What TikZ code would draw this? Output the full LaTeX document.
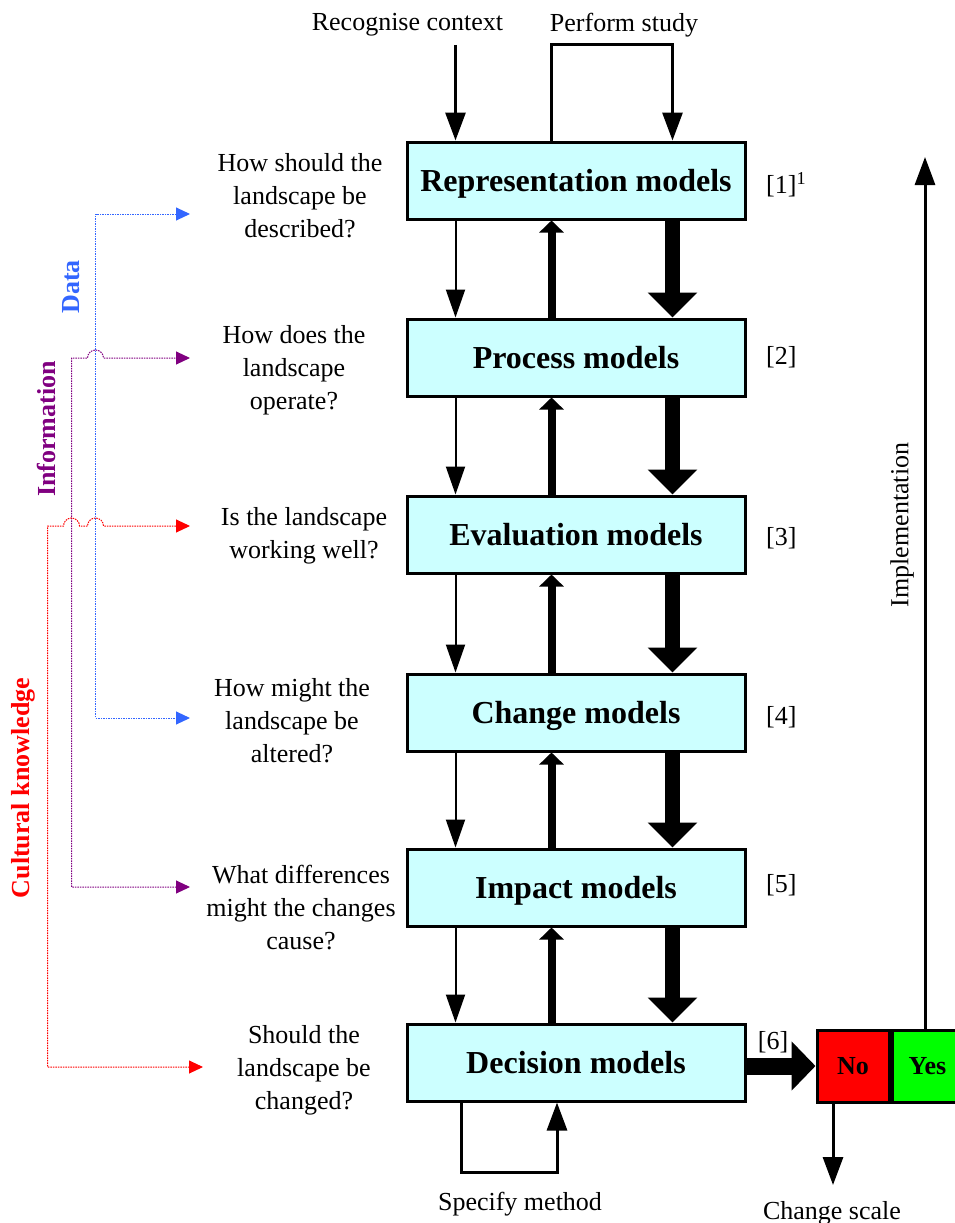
\documentclass[tikz,border=0pt]{standalone}
\usepackage{fontspec}
\setmainfont{Liberation Serif}
\usetikzlibrary{arrows.meta,calc}
\definecolor{boxcyan}{RGB}{204,255,255}
\definecolor{datablue}{RGB}{51,102,255}
\definecolor{infopurple}{RGB}{128,0,128}
\definecolor{cultred}{RGB}{255,0,0}
\definecolor{nored}{RGB}{255,0,0}
\definecolor{yesgreen}{RGB}{0,255,0}
\begin{document}
\begin{tikzpicture}[x=1pt,y=-1pt,
  box/.style={draw, line width=3pt, fill=boxcyan, minimum width=338pt, minimum height=77pt, inner sep=0pt, text height=21pt, text depth=0pt, font=\fontsize{32}{36}\selectfont\bfseries},
  q/.style={align=center, font=\fontsize{26}{33}\selectfont, inner sep=0pt},
  lab/.style={font=\fontsize{26}{30}\selectfont, inner sep=0pt},
  side/.style={font=\fontsize{26}{30}\selectfont\bfseries, inner sep=0pt, rotate=90},
  thinarr/.style={line width=2pt, -{Triangle[length=28pt,width=19pt]}},
  uparr/.style={line width=8pt, -{Triangle[length=12pt,width=24pt]}},
  downarr/.style={line width=15pt, -{Triangle[length=25pt,width=48pt]}},
  flowarr/.style={line width=3pt, -{Triangle[length=28pt,width=20pt]}},
  dotline/.style={line width=1pt, dash pattern=on 1.5pt off 1pt, {Triangle[length=14pt,width=13pt]}-{Triangle[length=14pt,width=13pt]}},
  choice/.style={draw, line width=3pt, minimum height=72pt, inner sep=0pt, font=\fontsize{26}{30}\selectfont\bfseries}
]
\useasboundingbox (0,0) rectangle (954,1223);

% main boxes
\node[box] (b1) at (576,180.5) {Representation models};
\node[box] (b2) at (576,357.5) {Process models};
\node[box] (b3) at (576,534.5) {Evaluation models};
\node[box] (b4) at (576,712.5) {Change models};
\node[box] (b5) at (576,887.5) {Impact models};
\node[box] (b6) at (576,1062.5) {Decision models};

% column coordinates
\coordinate (xa) at (455.5,0);
\coordinate (xb) at (551.5,0);
\coordinate (xc) at (672.5,0);

% arrows between boxes
\foreach \u/\l in {b1/b2,b2/b3,b3/b4,b4/b5,b5/b6}{
  \draw[thinarr] (\u.south -| xa) -- (\l.north -| xa);
  \draw[uparr] (\l.north -| xb) -- (\u.south -| xb);
  \draw[downarr] (\u.south -| xc) -- (\l.north -| xc);
}

% top
\node[lab] (rc) at (407.5,25) {Recognise context};
\node[lab] (ps) at (624,25) {Perform study};
\coordinate (ptop) at (0,45);
\draw[flowarr] (xa |- ptop) -- (b1.north -| xa);
\draw[flowarr] (b1.north -| xb) -- (xb |- ptop) -| (b1.north -| xc);

% bottom loop
\coordinate (xd) at (461,0);
\coordinate (xe) at (557,0);
\coordinate (pbot) at (0,1172);
\draw[flowarr] (b6.south -| xd) -- (xd |- pbot) -| (b6.south -| xe);
\node[lab] (sm) at (520,1204) {Specify method};

% index labels
\node[lab, anchor=west] (l1) at (766,185) {[1]\textsuperscript{1}};
\node[lab, anchor=west] (l2) at (766,357) {[2]};
\node[lab, anchor=west] (l3) at (766,538) {[3]};
\node[lab, anchor=west] (l4) at (766,717) {[4]};
\node[lab, anchor=west] (l5) at (766,885) {[5]};
\node[lab] (l6) at (773,1042) {[6]};

% decision
\node[choice, fill=nored, minimum width=72pt] (no) at (853,1066) {No};
\node[choice, fill=yesgreen, minimum width=71pt, anchor=west] (yes) at (no.east) {Yes};
\draw[line width=17pt, -{Triangle[length=24pt,width=48pt]}] (b6.east |- no.west) -- (no.west);
\coordinate (xn) at (833,0);
\coordinate (cs) at (833,1185);
\draw[flowarr] (no.south -| xn) -- (cs);
\node[lab] (csl) at (832,1213) {Change scale};
\coordinate (xi) at (925,0);
\coordinate (itop) at (925,157);
\draw[flowarr] (yes.north -| xi) -- (itop);
\node[lab, rotate=90] (impl) at (902,525) {Implementation};

% questions
\node[q] (q1) at (300,196) {How should the\\landscape be\\described?};
\node[q] (q2) at (294,370) {How does the\\landscape\\operate?};
\node[q] (q3) at (304,536) {Is the landscape\\working well?};
\node[q] (q4) at (292,721) {How might the\\landscape be\\altered?};
\node[q] (q5) at (301,908) {What differences\\might the changes\\cause?};
\node[q] (q6) at (304,1070) {Should the\\landscape be\\changed?};

% side labels
\node[side, text=datablue] (data) at (71,287) {Data};
\node[side, text=infopurple] (info) at (46,429) {Information};
\node[side, text=cultred] (cult) at (23,788) {Cultural knowledge};

% dotted feeds
\coordinate (dt) at (190,214);
\coordinate (db) at (190,718);
\coordinate (dx) at (95.5,0);
\draw[dotline, datablue] (dt) -- (dx |- dt) -- (dx |- db) -- (db);

\coordinate (it) at (190,358);
\coordinate (ib) at (190,887);
\draw[dotline, infopurple] (ib) -- (71.5,887) -- (71.5,358) -- (87.5,358) arc (180:360:8) -- (it);

\coordinate (ct) at (190,526);
\coordinate (cb) at (203,1067);
\draw[dotline, cultred] (cb) -- (47.5,1067) -- (47.5,526) -- (63.5,526) arc (180:360:8) -- (87.5,526) arc (180:360:8) -- (ct);
\end{tikzpicture}
\end{document}
